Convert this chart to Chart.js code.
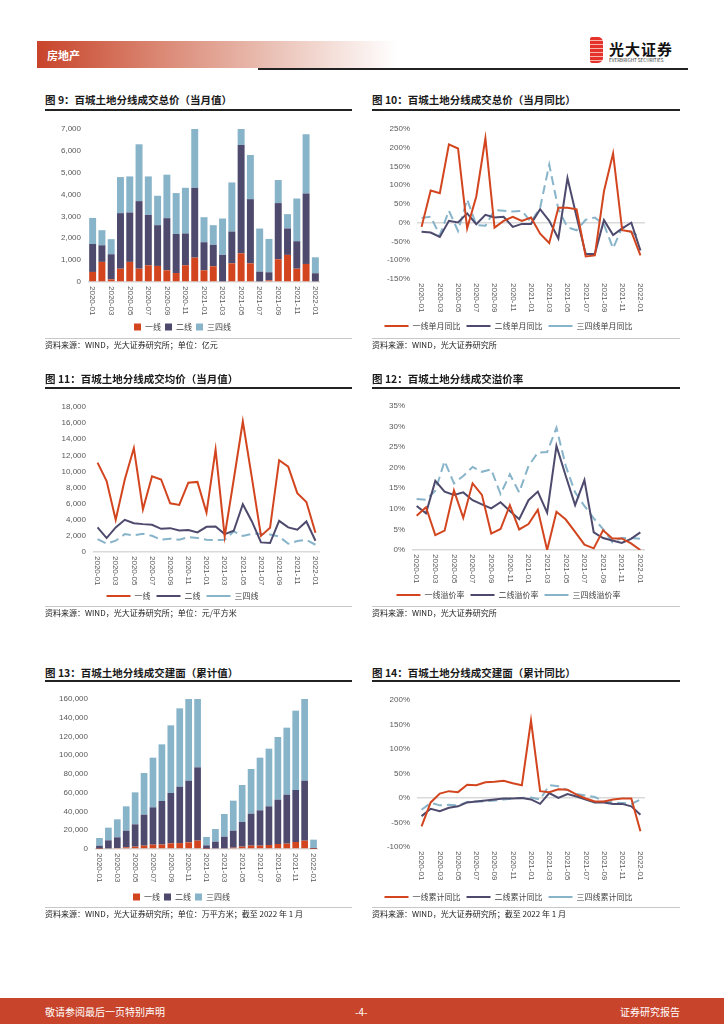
<!DOCTYPE html>
<html>
<head>
<meta charset="utf-8">
<script src="https://cdn.jsdelivr.net/npm/chart.js@4.4.0/dist/chart.umd.min.js"></script>
<style>
body { margin: 0; width: 724px; height: 1024px; position: relative; overflow: hidden; background: #fff;
       font-family: "Noto Sans CJK SC", "Liberation Sans", sans-serif; }
.abs { position: absolute; }
.hdr { left: 37px; top: 41px; width: 400px; height: 27px;
       background: linear-gradient(to right, #C8442A 0%, #DA8672 30%, #EBC3B8 60%, #fff 90%); }
.hdr span { position: absolute; left: 10px; top: 6px; color: #fff; font-size: 11px; font-weight: bold; }
.hline { left: 258px; top: 68px; width: 430px; height: 1.5px; background: #222; }
.icon { left: 590px; top: 37px; width: 13px; height: 26px; border-radius: 2px 5px 5px 2px;
        background: repeating-linear-gradient(to bottom, #E5322B 0 3px, #F6B6AE 3px 4px); }
.lname { left: 609px; top: 38px; font-size: 15px; font-weight: bold; color: #111; letter-spacing: 1px; }
.lsub { left: 609px; top: 57px; font-size: 8px; color: #333; transform: scale(0.58); transform-origin: left top; white-space: nowrap; }
.title { font-size: 10.5px; font-weight: bold; color: #1a1a1a; white-space: nowrap; }
.rule { height: 1.5px; background: #222; }
.gline { height: 1px; background: #C8C8C8; }
.src { font-size: 8px; color: #222; white-space: nowrap; }
.foot { left: 0; top: 998px; width: 724px; height: 26px; background: #C8442A; color: #fff; font-size: 10px; }
.foot span { position: absolute; top: 6px; }
canvas { position: absolute; }
</style>
</head>
<body>
<div class="abs hdr"><span>房地产</span></div>
<div class="abs hline"></div>
<div class="abs icon"></div>
<div class="abs lname">光大证券</div>
<div class="abs lsub">EVERBRIGHT SECURITIES</div>

<div class="abs title" style="left:45px;top:92px">图 9：百城土地分线成交总价（当月值）</div>
<div class="abs rule" style="left:45px;top:109px;width:307px"></div>
<canvas id="c9" width="307" height="230" style="left:45px;top:112px"></canvas>
<div class="abs gline" style="left:45px;top:338px;width:307px"></div>
<div class="abs src" style="left:45px;top:339px">资料来源：WIND，光大证券研究所；单位：亿元</div>

<div class="abs title" style="left:372px;top:92px">图 10：百城土地分线成交总价（当月同比）</div>
<div class="abs rule" style="left:372px;top:109px;width:308px"></div>
<canvas id="c10" width="308" height="230" style="left:372px;top:112px"></canvas>
<div class="abs gline" style="left:372px;top:338px;width:308px"></div>
<div class="abs src" style="left:372px;top:339px">资料来源：WIND，光大证券研究所</div>

<div class="abs title" style="left:45px;top:371px">图 11：百城土地分线成交均价（当月值）</div>
<div class="abs rule" style="left:45px;top:387px;width:307px"></div>
<canvas id="c11" width="307" height="225" style="left:45px;top:390px"></canvas>
<div class="abs gline" style="left:45px;top:606px;width:307px"></div>
<div class="abs src" style="left:45px;top:607px">资料来源：WIND，光大证券研究所；单位：元/平方米</div>

<div class="abs title" style="left:372px;top:371px">图 12：百城土地分线成交溢价率</div>
<div class="abs rule" style="left:372px;top:387px;width:308px"></div>
<canvas id="c12" width="308" height="225" style="left:372px;top:390px"></canvas>
<div class="abs gline" style="left:372px;top:606px;width:308px"></div>
<div class="abs src" style="left:372px;top:607px">资料来源：WIND，光大证券研究所</div>

<div class="abs title" style="left:45px;top:665px">图 13：百城土地分线成交建面（累计值）</div>
<div class="abs rule" style="left:45px;top:680px;width:307px"></div>
<canvas id="c13" width="307" height="230" style="left:45px;top:682px"></canvas>
<div class="abs gline" style="left:45px;top:907px;width:307px"></div>
<div class="abs src" style="left:45px;top:908px">资料来源：WIND，光大证券研究所；单位：万平方米；截至 2022 年 1 月</div>

<div class="abs title" style="left:372px;top:665px">图 14：百城土地分线成交建面（累计同比）</div>
<div class="abs rule" style="left:372px;top:680px;width:308px"></div>
<canvas id="c14" width="308" height="230" style="left:372px;top:682px"></canvas>
<div class="abs gline" style="left:372px;top:907px;width:308px"></div>
<div class="abs src" style="left:372px;top:908px">资料来源：WIND，光大证券研究所；截至 2022 年 1 月</div>

<div class="abs foot">
  <span style="left:45px">敬请参阅最后一页特别声明</span>
  <span style="left:355px">-4-</span>
  <span style="right:44px">证券研究报告</span>
</div>

<script>
const months = ['2020-01', '2020-02', '2020-03', '2020-04', '2020-05', '2020-06', '2020-07', '2020-08',
    '2020-09', '2020-10', '2020-11', '2020-12', '2021-01', '2021-02', '2021-03', '2021-04', '2021-05',
    '2021-06', '2021-07', '2021-08', '2021-09', '2021-10', '2021-11', '2021-12', '2022-01'];

// 图9 成交总价 当月值（亿元）
const total1 = [460, 920, 120, 610, 920, 610, 765, 735, 535, 410, 765, 1115, 535, 720, 30, 855, 1315, 855, 30, 75, 1040, 1240, 610, 825, 30];
const total2 = [1280, 760, 1150, 2540, 2260, 3090, 2305, 1865, 2385, 1790, 1455, 3195, 1285, 980, 1210, 1455, 4955, 2935, 445, 370, 2570, 1210, 1255, 3225, 370];
const total3 = [1190, 690, 690, 1650, 1650, 2600, 1760, 1345, 1990, 1870, 2090, 2690, 1145, 900, 1665, 2245, 730, 2020, 1970, 1525, 1055, 655, 1955, 2710, 730];

// 图10 成交总价 当月同比（%）
const totalYoy1 = [-11, 86, 79, 209, 198, -15, 70, 225, -13, 5, 16, 5, 14, -29, -54, 40, 40, 36, -90, -87, 84, 185, -20, -24, -87];
const totalYoy2 = [-24, -26, -38, 5, 1, 25, -4, 21, 14, 16, -11, -3, -3, 36, 5, -42, 119, 16, -83, -83, 7, -33, -15, 0, -74];
const totalYoy3 = [13, 16, -33, 32, -22, 62, -6, -8, 34, 32, 30, 32, 2, 40, 155, 36, -12, -20, 8, 14, -5, -68, -12, -25, -38];

// 图11 成交均价 当月值（元/平方米）
const avg1 = [11100, 8800, 4000, 9000, 12900, 5300, 9400, 9000, 6050, 5850, 8600, 8700, 4900, 12700, 1950, 9000, 16200, 9200, 2000, 3000, 11400, 10600, 7300, 6200, 2400];
const avg2 = [3050, 1730, 3050, 4000, 3580, 3460, 3370, 2880, 2960, 2670, 2720, 2430, 3130, 3170, 2220, 2630, 5930, 3790, 1190, 1110, 3870, 3050, 2760, 3790, 1400];
const avg3 = [1600, 1030, 1400, 2220, 2060, 2260, 2020, 1520, 1650, 1520, 1850, 1730, 1520, 1480, 1520, 2550, 1980, 2260, 2260, 2180, 1930, 1030, 1360, 1520, 900];

// 图12 溢价率（%）
const prem1 = [8.3, 10.4, 3.6, 4.7, 14.5, 7.8, 16.2, 13.4, 4.0, 5.1, 10.9, 5.0, 6.3, 9.8, 0, 9.3, 7.4, 4.4, 1.3, 0.4, 4.8, 2.8, 2.8, 1.6, 0];
const prem2 = [10.7, 8.9, 16.8, 14.2, 13.4, 14.0, 12.1, 11.1, 10.1, 11.6, 9.5, 7.5, 12.1, 14.2, 9.1, 25.3, 18.0, 10.9, 17.0, 4.3, 2.9, 2.3, 1.7, 2.7, 4.3];
const prem3 = [12.4, 12.2, 14.4, 21.6, 16.2, 18.0, 20.2, 19.0, 19.6, 13.6, 18.4, 14.0, 20.4, 23.7, 23.8, 29.7, 20.4, 14.0, 10.7, 7.7, 5.1, 1.9, 2.9, 2.9, 2.7];

// 图13 成交建面 累计值（万平方米）
const area1 = [360, 700, 1070, 1780, 2490, 3560, 4620, 4800, 6040, 6300, 7110, 8890, 360, 700, 700, 1420, 2490, 3560, 3560, 4270, 5330, 5690, 7470, 8890, 200];
const area2 = [3200, 8540, 11370, 17780, 23820, 33060, 39820, 46400, 53690, 60190, 65780, 78220, 3550, 7120, 12450, 18140, 26310, 34130, 37680, 41240, 47290, 52270, 55460, 64000, 870];
const area3 = [8170, 13520, 19200, 25940, 34130, 44450, 52980, 60440, 72180, 83550, 94110, 96890, 8890, 13510, 24180, 32000, 39470, 47640, 56180, 61510, 66850, 71460, 84630, 95110, 8890];

// 图14 成交建面 累计同比（%）
const areaYoy1 = [-58, -9, 9, 14, 12, 27, 26, 32, 33, 35, 30, 26, 158, 14, 12, 18, 17, 7, -1, -7, -7, -3, -1, -1, -68];
const areaYoy2 = [-37, -22, -27, -20, -17, -9, -7, -5, -3, -1, -1, 0, -3, -12, 10, 0, 8, 3, -3, -9, -9, -12, -12, -17, -34];
const areaYoy3 = [-24, -10, -15, -14, -15, -8, -7, -7, -5, -3, -1, 0, 1, -3, 26, 24, 16, 8, 5, 2, -7, -9, -10, -12, -3];

const RED = '#D2451F', DARK = '#4D4A6D', LIGHT = '#88B4CA';
const TICK = '#595959';

Chart.defaults.font.family = '"Liberation Sans", "Noto Sans CJK SC", sans-serif';
Chart.defaults.font.size = 8;
Chart.defaults.color = TICK;

// x labels read top-to-bottom, every other month
const xLabels = {
    id: 'xLabels',
    afterDraw(chart) {
        const xs = chart.scales.x, ctx = chart.ctx;
        ctx.save();
        ctx.fillStyle = TICK;
        ctx.font = '8px "Liberation Sans", sans-serif';
        ctx.textAlign = 'left';
        ctx.textBaseline = 'middle';
        chart.data.labels.forEach((lab, i) => {
            if (i % 2) return;
            ctx.save();
            ctx.translate(xs.getPixelForTick(i), chart.chartArea.bottom + 4);
            ctx.rotate(Math.PI / 2);
            ctx.fillText(lab, 0, 0);
            ctx.restore();
        });
        ctx.restore();
    }
};

function makeChart(id, type, datasets, g) {
    const isLine = type === 'line';
    const legPad = isLine ? 6 : 4;
    const legTop = g.legendMid - legPad - 4;
    const legH = 8 + legPad + 10;
    const legFont = { size: 8, family: '"Noto Sans CJK SC", sans-serif' };
    return new Chart(document.getElementById(id), {
        type: type,
        data: { labels: months, datasets: datasets },
        options: {
            responsive: false,
            animation: false,
            layout: { padding: { top: g.plotTop, right: g.right, bottom: g.h - legTop - legH, left: 0 } },
            plugins: {
                tooltip: { enabled: false },
                legend: {
                    position: 'bottom',
                    labels: isLine
                        ? { usePointStyle: true, pointStyle: 'line', pointStyleWidth: 24, padding: legPad, color: '#404040', font: legFont }
                        : { boxWidth: 7, boxHeight: 7, padding: legPad, color: '#404040', font: legFont }
                }
            },
            scales: {
                x: {
                    stacked: !isLine,
                    offset: true,
                    grid: { display: false },
                    border: { display: false },
                    ticks: { display: false },
                    afterFit: (s) => { s.height = legTop - g.plotBottom; }
                },
                y: {
                    stacked: !isLine,
                    min: g.min, max: g.max,
                    ticks: { stepSize: g.step, padding: 7, color: TICK, callback: g.fmt },
                    grid: { drawTicks: false, lineWidth: 1.5, color: (c) => c.tick && c.tick.value === 0 ? '#D9D9D9' : 'transparent' },
                    border: { display: false },
                    afterFit: (s) => { s.width = g.yw; }
                }
            }
        },
        plugins: [xLabels]
    });
}

function bar(label, data, color) {
    return { label: label, data: data, backgroundColor: color, borderWidth: 0, barPercentage: 0.75, categoryPercentage: 1 };
}
function line(label, data, color, dashed) {
    return { label: label, data: data, borderColor: color, backgroundColor: color, borderWidth: 2,
             borderDash: dashed ? [9, 5] : [], pointRadius: 0, tension: 0, fill: false };
}
const num = (v) => v.toLocaleString('en-US');
const pct = (v) => v + '%';

makeChart('c9', 'bar', [bar('一线', total1, RED), bar('二线', total2, DARK), bar('三四线', total3, LIGHT)],
    { h: 230, plotTop: 17, plotBottom: 170, legendMid: 215, yw: 43, right: 32, min: 0, max: 7000, step: 1000, fmt: num });

makeChart('c10', 'line', [line('一线单月同比', totalYoy1, RED), line('二线单月同比', totalYoy2, DARK), line('三四线单月同比', totalYoy3, LIGHT, true)],
    { h: 230, plotTop: 17, plotBottom: 167, legendMid: 214, yw: 45, right: 35, min: -150, max: 250, step: 50, fmt: pct });

makeChart('c11', 'line', [line('一线', avg1, RED), line('二线', avg2, DARK), line('三四线', avg3, LIGHT, true)],
    { h: 225, plotTop: 17, plotBottom: 162, legendMid: 206, yw: 48, right: 32, min: 0, max: 18000, step: 2000, fmt: num });

makeChart('c12', 'line', [line('一线溢价率', prem1, RED), line('二线溢价率', prem2, DARK), line('三四线溢价率', prem3, LIGHT, true)],
    { h: 225, plotTop: 16, plotBottom: 160, legendMid: 205, yw: 40, right: 35, min: 0, max: 35, step: 5, fmt: pct });

makeChart('c13', 'bar', [bar('一线', area1, RED), bar('二线', area2, DARK), bar('三四线', area3, LIGHT)],
    { h: 230, plotTop: 17, plotBottom: 167, legendMid: 215, yw: 50, right: 34, min: 0, max: 160000, step: 20000, fmt: num });

makeChart('c14', 'line', [line('一线累计同比', areaYoy1, RED), line('二线累计同比', areaYoy2, DARK), line('三四线累计同比', areaYoy3, LIGHT, true)],
    { h: 230, plotTop: 18, plotBottom: 165, legendMid: 215, yw: 45, right: 35, min: -100, max: 200, step: 50, fmt: pct });
</script>
</body>
</html>
